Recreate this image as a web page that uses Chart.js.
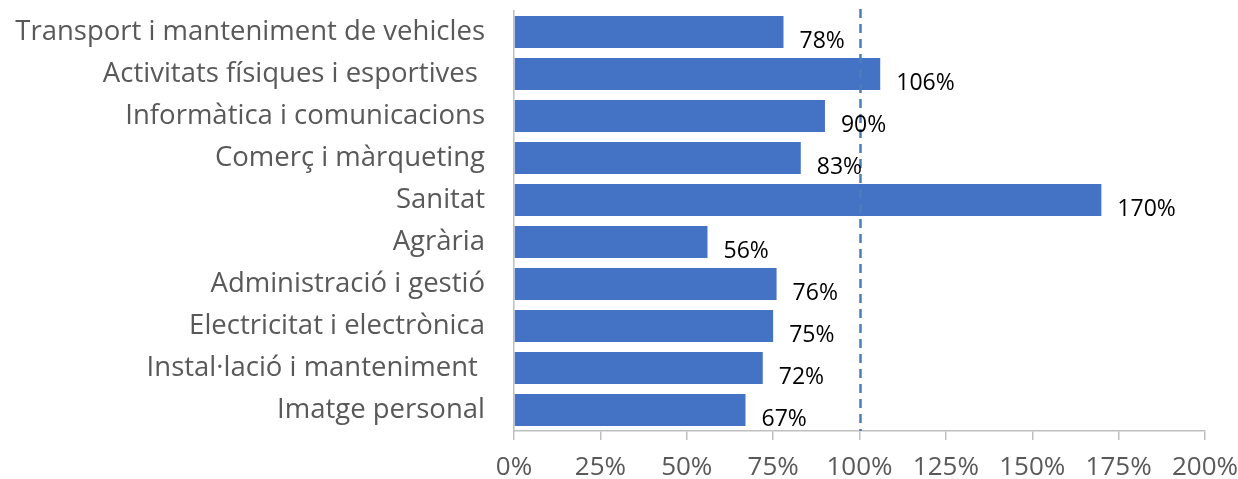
<!DOCTYPE html>
<html>
<head>
<meta charset="utf-8">
<script src="https://cdn.jsdelivr.net/npm/chart.js@4/dist/chart.umd.min.js"></script>
<style>
  body { margin: 0; background: #fff; }
  #wrap { width: 1238px; height: 479px; position: relative; }
</style>
</head>
<body>
<div id="wrap"><canvas id="myChart"></canvas></div>
<script>
const categories = [
  "Transport i manteniment de vehicles",
  "Activitats físiques i esportives ",
  "Informàtica i comunicacions",
  "Comerç i màrqueting",
  "Sanitat",
  "Agrària",
  "Administració i gestió",
  "Electricitat i electrònica",
  "Instal·lació i manteniment ",
  "Imatge personal"
];
const values = [78, 106, 90, 83, 170, 56, 76, 75, 72, 67];
const xTicks = [0, 25, 50, 75, 100, 125, 150, 175, 200];
const refLine = 100;

const FONT = "'Open Sans', 'Liberation Sans', sans-serif";

// dashed 100% line + value labels
const extras = {
  id: "extras",
  afterDatasetsDraw(chart) {
    const ctx = chart.ctx;
    const xs = chart.scales.x;
    const area = chart.chartArea;
    const x = Math.round(xs.getPixelForValue(refLine)) + 0.5;
    ctx.save();
    ctx.strokeStyle = "#4a7ebb";
    ctx.lineWidth = 2.5;
    ctx.setLineDash([9, 6]);
    ctx.beginPath();
    ctx.moveTo(x, area.top - 2);
    ctx.lineTo(x, area.bottom);
    ctx.stroke();
    ctx.setLineDash([]);

    const meta = chart.getDatasetMeta(0);
    ctx.fillStyle = "#000";
    ctx.font = "23px " + FONT;
    ctx.textAlign = "left";
    ctx.textBaseline = "middle";
    meta.data.forEach((bar, i) => {
      ctx.fillText(values[i] + "%", bar.x + 16, bar.y + 9);
    });
    ctx.restore();
  }
};

new Chart(document.getElementById("myChart"), {
  type: "bar",
  data: {
    labels: categories,
    datasets: [{
      data: values,
      backgroundColor: "#4472c4",
      borderWidth: 0,
      barPercentage: 0.76,
      categoryPercentage: 1
    }]
  },
  options: {
    indexAxis: "y",
    responsive: true,
    maintainAspectRatio: false,
    animation: false,
    layout: { padding: { top: 11, right: 33, bottom: 0, left: 0 } },
    plugins: { legend: { display: false }, tooltip: { enabled: false } },
    scales: {
      x: {
        min: 0,
        max: 200,
        afterBuildTicks(scale) { scale.ticks = xTicks.map(v => ({ value: v })); },
        afterFit(scale) {
          scale.height = 48;
          scale.paddingLeft = 0;
          scale.paddingRight = 0;
        },
        grid: { drawOnChartArea: false, drawTicks: true, tickLength: 9, color: "#bfbfbf", lineWidth: 1.5 },
        border: { color: "#bfbfbf", width: 1.5 },
        ticks: {
          callback: v => v + "%",
          color: "#595959",
          font: { family: FONT, size: 26 },
          padding: 12,
          maxRotation: 0
        }
      },
      y: {
        afterFit(scale) {
          scale.width = 514;
          scale.paddingTop = 0;
          scale.paddingBottom = 0;
        },
        grid: { display: false, drawTicks: false },
        border: { display: true, color: "#bfbfbf", width: 1.5 },
        ticks: {
          color: "#595959",
          font: { family: FONT, size: 27.5 },
          padding: 29
        }
      }
    }
  },
  plugins: [extras]
});
</script>
</body>
</html>
